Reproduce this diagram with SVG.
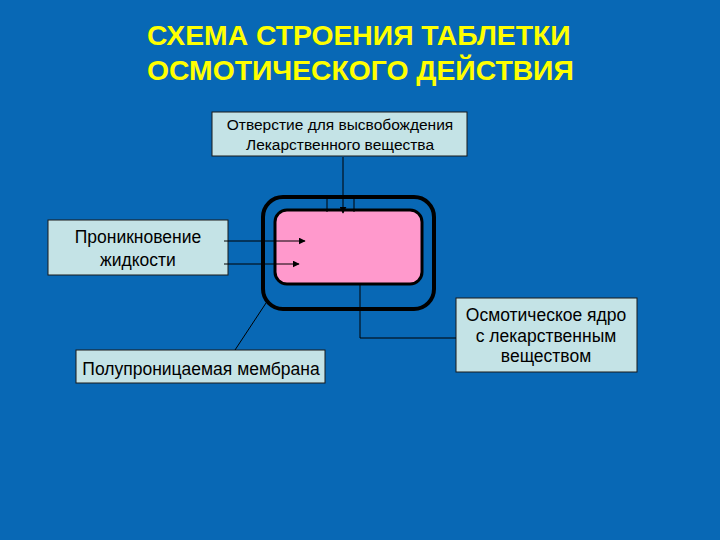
<svg xmlns="http://www.w3.org/2000/svg" width="720" height="540" viewBox="0 0 720 540">
<defs>
<style>
.t{font-family:"Liberation Sans",Arial,sans-serif;fill:#000;text-anchor:middle}
.box{fill:#c4e3e6;stroke:#1a1a1a;stroke-width:1}
.ln{stroke:#000;stroke-width:1;fill:none}
.title{font-family:"Liberation Sans",Arial,sans-serif;font-weight:bold;font-size:28.3px;fill:#ffff00}
</style>
<marker id="ah" viewBox="0 0 10 10" refX="9" refY="5" markerWidth="7" markerHeight="7" orient="auto" markerUnits="userSpaceOnUse">
<path d="M0,0 L10,5 L0,10 z" fill="#000"/>
</marker>
</defs>
<rect width="720" height="540" fill="#0868b5"/>
<g id="title">
<text class="title" x="147" y="45">СХЕМА СТРОЕНИЯ ТАБЛЕТКИ</text>
<text class="title" x="147" y="80">ОСМОТИЧЕСКОГО ДЕЙСТВИЯ</text>
</g>
<g id="tablet">
<rect x="263" y="197" width="171" height="112" rx="20" fill="none" stroke="#000" stroke-width="4"/>
<rect x="275" y="210" width="147" height="74" rx="12" fill="#ff99cc" stroke="#000" stroke-width="3"/>
</g>
<g id="opening">
<rect class="box" x="212" y="112" width="255" height="44"/>
<text class="t" x="340" y="130" font-size="15.5">Отверстие для высвобождения</text>
<text class="t" x="340" y="150" font-size="15.5">Лекарственного вещества</text>
</g>
<g id="penetration">
<rect class="box" x="48" y="220" width="180" height="55"/>
<text class="t" x="138" y="243" font-size="17.5">Проникновение</text>
<text class="t" x="138" y="266" font-size="17.5">жидкости</text>
</g>
<g id="membrane">
<rect class="box" x="76" y="350" width="249" height="33"/>
<text class="t" x="201" y="375" font-size="17.5">Полупроницаемая мембрана</text>
</g>
<g id="core">
<rect class="box" x="456" y="298" width="181" height="74"/>
<text class="t" x="546" y="321" font-size="17.5">Осмотическое ядро</text>
<text class="t" x="546" y="342" font-size="17.5">с лекарственным</text>
<text class="t" x="546" y="362" font-size="17.5">веществом</text>
</g>
<g id="connectors">
<line class="ln" x1="343" y1="157" x2="343" y2="213" stroke-width="1.5" marker-end="url(#ah)"/>
<line class="ln" x1="327" y1="196" x2="327" y2="212"/>
<line class="ln" x1="354" y1="196" x2="354" y2="212"/>
<line class="ln" x1="224" y1="241" x2="305" y2="241" marker-end="url(#ah)"/>
<line class="ln" x1="224" y1="264" x2="299" y2="264" marker-end="url(#ah)"/>
<line class="ln" x1="235" y1="350" x2="268" y2="300"/>
<polyline class="ln" points="360,283 360,338 456,338"/>
</g>
</svg>
